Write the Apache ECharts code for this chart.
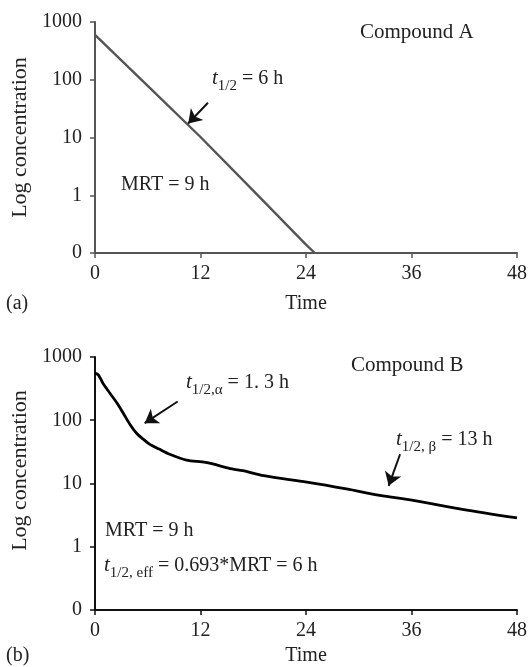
<!DOCTYPE html>
<html>
<head>
<meta charset="utf-8">
<script src="https://cdn.jsdelivr.net/npm/echarts@6/dist/echarts.min.js"></script>
<style>
html,body{margin:0;padding:0;background:#fff;}
#chart{width:530px;height:667px;}
</style>
</head>
<body>
<div id="chart"></div>
<script>
// ---- data ----
var xTicks = [0, 12, 24, 36, 48];
var yTicks = [0.1, 1, 10, 100, 1000];
var yTickLabels = ['0', '1', '10', '100', '1000'];

// Compound A: time (h), concentration
var timeA = [0, 6, 12, 18, 24, 25];
var concA = [600, 78, 10.2, 1.2, 0.14, 0.1];

// Compound B: time (h), concentration
var timeB = [0, 0.4, 0.9, 1.7, 2.5, 3.2, 4.0, 4.7, 5.5, 6.2, 7.3, 8.5, 10.4, 12.6, 15.6, 16.8, 19.2, 24.1, 28.6, 32.4, 36.2, 41.8, 48];
var concB = [560, 517, 384, 267, 187, 130, 85, 63, 50, 42, 35, 29, 23.5, 21.5, 17, 16, 13.3, 10.5, 8.2, 6.5, 5.4, 3.9, 2.85];

// arrows: [fromTime, fromConc, toTime, toConc]
var arrowA = [12.85, 40, 10.6, 17.5];
var arrowB1 = [9.4, 198, 5.65, 90];
var arrowB2 = [34.7, 29, 33.4, 9.2];

var FONT = 'Liberation Serif';

function pairs(xs, ys) { return xs.map(function (x, i) { return [x, ys[i]]; }); }
function yFmt(v) {
  var idx = yTicks.findIndex(function (t) { return Math.abs(Math.log10(t) - Math.log10(v)) < 1e-6; });
  return idx >= 0 ? yTickLabels[idx] : '';
}
function arrowLine(a, color) {
  return {
    silent: true,
    symbol: ['none', 'arrow'],
    symbolSize: 13,
    label: { show: false },
    emphasis: { disabled: true },
    lineStyle: { color: color, width: 2, type: 'solid' },
    itemStyle: { color: color },
    data: [[{ coord: [a[0], a[1]] }, { coord: [a[2], a[3]] }]]
  };
}

function xAxisCfg(idx, color, gap) {
  return {
    gridIndex: idx, type: 'value', min: 0, max: 48, interval: 12,
    name: 'Time', nameLocation: 'middle', nameGap: gap,
    nameTextStyle: { fontFamily: FONT, fontSize: 20, color: '#222' },
    axisLine: { lineStyle: { color: color, width: 2 } },
    axisTick: { show: true, length: 5, lineStyle: { color: color, width: 1.5 } },
    axisLabel: { fontFamily: FONT, fontSize: 20, color: '#222', margin: 11 },
    splitLine: { show: false }
  };
}
function yAxisCfg(idx, color, pad) {
  return {
    gridIndex: idx, type: 'log', logBase: 10, min: 0.1, max: 1000, interval: 1,
    name: 'Log concentration', nameLocation: 'middle', nameGap: 62, nameRotate: 90,
    nameTextStyle: { fontFamily: FONT, fontSize: 22, color: '#222', padding: pad },
    axisLine: { show: true, lineStyle: { color: color, width: 2 } },
    axisTick: { show: true, length: 5, lineStyle: { color: color, width: 1.5 } },
    axisLabel: { fontFamily: FONT, fontSize: 20, color: '#222', margin: 13, formatter: yFmt },
    splitLine: { show: false }, minorTick: { show: false }
  };
}

var sub = function () {
  return {
    t: { fontFamily: FONT, fontSize: 21, fontStyle: 'italic', color: '#222', lineHeight: 30, verticalAlign: 'middle' },
    s: { fontFamily: FONT, fontSize: 15, color: '#222', lineHeight: 15, verticalAlign: 'bottom' },
    n: { fontFamily: FONT, fontSize: 20, color: '#222', lineHeight: 30, verticalAlign: 'middle' }
  };
};
function txt(x, y, text, size, rich) {
  var st = { text: text, fontFamily: FONT, fontSize: size || 20, fill: '#222', textVerticalAlign: 'middle' };
  if (rich) st.rich = rich;
  return { type: 'text', left: x, top: y, style: st, z: 100 };
}

var chart = echarts.init(document.getElementById('chart'), null, { renderer: 'canvas' });
chart.setOption({
  animation: false,
  backgroundColor: '#fff',
  grid: [
    { left: 95, right: 11, top: 22, height: 231 },
    { left: 95, right: 11, top: 357, height: 255 }
  ],
  xAxis: [xAxisCfg(0, '#555', 41), xAxisCfg(1, '#111', 36)],
  yAxis: [yAxisCfg(0, '#555', [0, 0, 0, 0]), yAxisCfg(1, '#111', [0, 0, 0, 26])],
  series: [
    {
      type: 'line', xAxisIndex: 0, yAxisIndex: 0, data: pairs(timeA, concA),
      showSymbol: false, smooth: false, lineStyle: { color: '#555', width: 2.4 },
      markLine: arrowLine(arrowA, '#111')
    },
    {
      type: 'line', xAxisIndex: 1, yAxisIndex: 1, data: pairs(timeB, concB),
      showSymbol: false, smooth: 0.3, lineStyle: { color: '#000', width: 2.8 },
      markLine: arrowLine(arrowB1, '#111')
    },
    {
      type: 'line', xAxisIndex: 1, yAxisIndex: 1, data: [],
      markLine: arrowLine(arrowB2, '#111')
    }
  ],
  graphic: [
    txt(360, 22, 'Compound A', 21),
    txt(351, 355, 'Compound B', 21),
    txt(121, 175, 'MRT = 9 h', 20),
    txt(105, 521, 'MRT = 9 h', 20),
    txt(212, 68, '{t|t}{s|1/2}{n| = 6 h}', 20, sub()),
    txt(186, 372, '{t|t}{s|1/2,α}{n| = 1. 3 h}', 20, sub()),
    txt(396, 429, '{t|t}{s|1/2, β}{n| = 13 h}', 20, sub()),
    txt(104, 555, '{t|t}{s|1/2, eff}{n| = 0.693*MRT = 6 h}', 20, sub()),
    txt(6, 294, '(a)', 20),
    txt(6, 646, '(b)', 20)
  ]
});
</script>
</body>
</html>
